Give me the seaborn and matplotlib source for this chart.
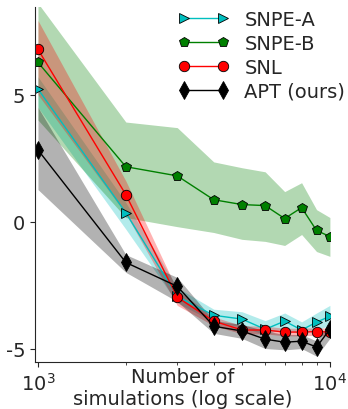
import numpy as np
import pandas as pd
import matplotlib
matplotlib.use('Agg')
import matplotlib.pyplot as plt
import seaborn as sns

sns.set_style('ticks')
plt.rcParams['font.family'] = ['DejaVu Sans']
plt.rcParams['axes.unicode_minus'] = False

sims = [1000, 2000, 3000, 4000, 5000, 6000, 7000, 8000, 9000, 10000]

snpe_a = [5.22, 0.35, -2.95, -3.69, -3.84, -4.24, -3.92, -4.27, -3.96, -3.73]
snpe_a_hi = [5.7, 0.75, -2.6, -3.45, -3.55, -3.9, -3.6, -3.95, -3.6, -3.3]
snpe_a_lo = [4.5, -0.3, -3.2, -3.95, -4.15, -4.45, -4.2, -4.45, -4.25, -4.1]

snpe_b = [6.27, 2.16, 1.80, 0.86, 0.67, 0.63, 0.12, 0.55, -0.35, -0.59]
snpe_b_hi = [8.6, 3.92, 3.7, 2.35, 2.12, 1.96, 1.18, 1.53, 0.47, 0.16]
snpe_b_lo = [4.0, 0.16, -0.2, -0.43, -0.7, -0.78, -0.94, -0.51, -1.18, -1.37]

snl = [6.78, 1.06, -2.98, -3.92, -4.27, -4.27, -4.35, -4.35, -4.33, -4.35]
snl_hi = [7.92, 1.6, -2.7, -3.75, -4.1, -4.12, -4.2, -4.2, -4.18, -4.2]
snl_lo = [5.0, 0.3, -3.3, -4.1, -4.42, -4.42, -4.5, -4.5, -4.48, -4.5]

apt = [2.82, -1.61, -2.55, -4.12, -4.31, -4.63, -4.75, -4.71, -4.94, -4.24]
apt_hi = [4.5, -1.3, -2.2, -3.9, -4.05, -4.3, -4.45, -4.45, -4.7, -3.95]
apt_lo = [1.26, -2.0, -3.15, -4.4, -4.6, -5.0, -5.05, -5.0, -5.3, -4.6]

methods = [
    ('SNPE-A', snpe_a, snpe_a_hi, snpe_a_lo, 'c', '>', 7.5),
    ('SNPE-B', snpe_b, snpe_b_hi, snpe_b_lo, 'g', 'p', 7.5),
    ('SNL', snl, snl_hi, snl_lo, 'r', 'o', 7.5),
    ('APT (ours)', apt, apt_hi, apt_lo, 'k', 'd', 9),
]

fig = plt.figure(figsize=(3.48, 4.10), dpi=100)
ax = fig.add_axes([0.1006, 0.1146, 0.8474, 0.8659])

for name, vals, hi, lo, col, mk, ms in methods:
    df = pd.DataFrame({'sims': sims, 'val': vals})
    ax.fill_between(sims, lo, hi, color=col, alpha=0.3, linewidth=0)
    sns.lineplot(data=df, x='sims', y='val', ax=ax, color=col, marker=mk,
                 markersize=ms, markeredgecolor='k', markeredgewidth=0.6,
                 linewidth=1.0, label=name)

ax.set_xscale('log')
ax.set_xlim(977, 10000)
ax.set_ylim(-5.53, 8.45)
ax.set_yticks([-5, 0, 5])
ax.set_yticklabels(['-5', '0', '5'])
ax.tick_params(labelsize=14)
ax.set_xlabel('Number of\nsimulations (log scale)', fontsize=14, labelpad=-19)
ax.set_ylabel('')
sns.despine(ax=ax)

ax.legend(loc='upper right', frameon=False, fontsize=14, numpoints=2,
          handlelength=2.6, borderaxespad=0.0, labelspacing=0.25,
          bbox_to_anchor=(1.078, 1.014))

fig.savefig('out.png', dpi=100)
